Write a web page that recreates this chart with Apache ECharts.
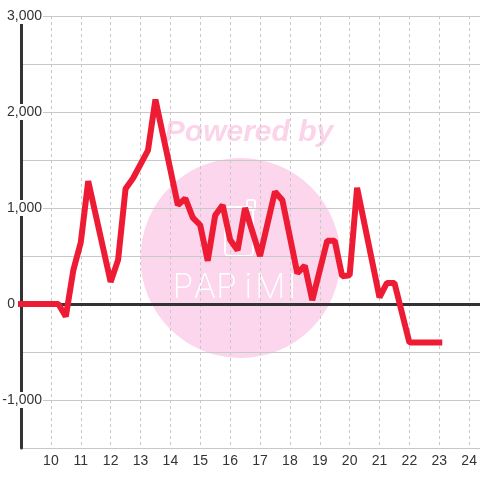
<!DOCTYPE html>
<html>
<head>
<meta charset="utf-8">
<script src="https://cdn.jsdelivr.net/npm/echarts@6/dist/echarts.min.js"></script>
<style>html,body{margin:0;padding:0;background:#fff}#c{width:480px;height:480px}</style>
</head>
<body>
<div id="c"></div>
<script>
// Data (hour of day, value)
var hours  = [9, 10.25, 10.5, 10.75, 11, 11.25, 12, 12.25, 12.5, 12.75, 13.25, 13.5, 14, 14.25, 14.5, 14.75, 15, 15.25, 15.5, 15.75, 16, 16.25, 16.5, 17, 17.5, 17.75, 18.25, 18.5, 18.75, 19.25, 19.5, 19.75, 20, 20.25, 21, 21.25, 21.5, 22, 23];
var values = [0, 0, -130, 350, 640, 1280, 230, 460, 1200, 1310, 1600, 2130, 1400, 1030, 1100, 900, 820, 450, 925, 1030, 670, 560, 1000, 500, 1170, 1080, 320, 400, 40, 660, 660, 290, 300, 1210, 70, 220, 220, -400, -400];
var xTickLabels = ['10','11','12','13','14','15','16','17','18','19','20','21','22','23','24'];
var yTickLabels = ['-1,000','0','1,000','2,000','3,000'];
var watermarkLetters = ['P','A','P','i','M','I'];

var seriesData = hours.map(function (h, i) { return [h, values[i]]; });

var chart = echarts.init(document.getElementById('c'), null, {renderer: 'canvas'});
var fontFam = '"Liberation Sans", Arial, sans-serif';

function yFmt(v) {
  if (v % 1000 !== 0) return '';
  var s = v === 0 ? '0' : (v < 0 ? '-' : '') + Math.abs(v / 1000) + ',000';
  if (yTickLabels.indexOf(s) < 0) return '';
  return v === 0 ? '{z|0}' : '{n|' + s + '}';
}
function xFmt(v) {
  var s = String(v);
  return xTickLabels.indexOf(s) >= 0 ? s : '';
}

var graphics = [
  {type: 'circle', z: -10, silent: true, shape: {cx: 240.5, cy: 258, r: 100}, style: {fill: '#FBD6EC'}},
  {type: 'text', z: -9, silent: true, x: 249, y: 133, style: {text: 'Powered by', font: 'italic bold 30px "Liberation Sans", Arial, sans-serif', fill: '#FBD4EA', align: 'center', verticalAlign: 'middle'}},
  {type: 'rect', z: -9, silent: true, shape: {x: 225, y: 207, width: 28, height: 49, r: 4}, style: {fill: 'none', stroke: '#fff', lineWidth: 2}},
  {type: 'rect', z: -9, silent: true, shape: {x: 247, y: 200, width: 8, height: 10, r: 2}, style: {fill: 'none', stroke: '#fff', lineWidth: 2}}
];
watermarkLetters.forEach(function (ch, i) {
  graphics.push({type: 'text', z: -9, silent: true, x: 183 + i * 21.8, y: 288,
    style: {text: ch, font: '200 34px Inter, "DejaVu Sans", sans-serif', fill: '#fff', align: 'center', verticalAlign: 'middle'}});
});

chart.setOption({
  animation: false,
  backgroundColor: '#fff',
  textStyle: {fontFamily: fontFam},
  grid: {left: 21, top: 16, width: 478, height: 432, containLabel: false, outerBoundsMode: 'none'},
  xAxis: [{
    type: 'value', min: 9, max: 25, interval: 1,
    position: 'bottom',
    axisLine: {show: true, onZero: true, lineStyle: {color: '#333', width: 3}},
    axisTick: {show: false},
    axisLabel: {show: false},
    splitLine: {show: true, lineStyle: {color: '#c8c8c8', width: 1, type: [3, 3]}}
  }, {
    type: 'value', min: 9, max: 25, interval: 1,
    position: 'bottom',
    axisLine: {show: false, onZero: false},
    axisTick: {show: false},
    splitLine: {show: false},
    axisLabel: {show: true, formatter: xFmt, color: '#333', fontSize: 14, margin: 6, fontFamily: fontFam}
  }],
  yAxis: {
    type: 'value', min: -1500, max: 3000, interval: 500,
    position: 'left',
    axisLine: {show: true, onZero: false, lineStyle: {color: '#333', width: 3}},
    axisTick: {show: false},
    splitLine: {show: true, lineStyle: {color: '#c8c8c8', width: 1}},
    axisLabel: {
      show: true, inside: true, margin: 22, align: 'right',
      formatter: yFmt,
      rich: {
        n: {color: '#333', fontSize: 14, fontFamily: fontFam, backgroundColor: '#fff', padding: [1, 1, 1, 1]},
        z: {color: '#333', fontSize: 14, fontFamily: fontFam, padding: [1, 28, 1, 0]}
      }
    }
  },
  graphic: graphics,
  series: [{
    type: 'line',
    xAxisIndex: 0,
    data: seriesData,
    symbol: 'none',
    lineStyle: {color: '#ED1C34', width: 6, cap: 'square'},
    z: 5
  }]
});
</script>
</body>
</html>
